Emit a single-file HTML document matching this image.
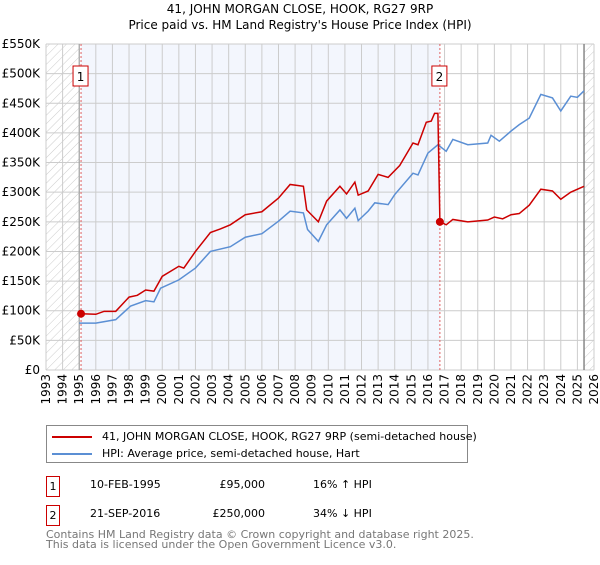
<!DOCTYPE html>
<html><head><meta charset="utf-8"><style>
body{margin:0;background:#fff;width:600px;height:560px;overflow:hidden;font-family:"Liberation Sans","DejaVu Sans",sans-serif}
</style></head><body>
<svg id="c" width="600" height="560" xmlns="http://www.w3.org/2000/svg" font-family="DejaVu Sans, Liberation Sans, sans-serif">
<defs><pattern id="h" width="6" height="6" patternUnits="userSpaceOnUse" patternTransform="rotate(45)"><line x1="0" y1="0" x2="0" y2="6" stroke="#ccc" stroke-width="1"/></pattern></defs>
<text x="300" y="13" text-anchor="middle" font-size="12" fill="#000">41, JOHN MORGAN CLOSE, HOOK, RG27 9RP</text>
<text x="300" y="29" text-anchor="middle" font-size="12" fill="#000">Price paid vs. HM Land Registry's House Price Index (HPI)</text>
<g id="g"></g>
</svg>
<script>
const yTicks=[0,50,100,150,200,250,300,350,400,450,500,550];
const yearTicks=[1993,1994,1995,1996,1997,1998,1999,2000,2001,2002,2003,2004,2005,2006,2007,2008,2009,2010,2011,2012,2013,2014,2015,2016,2017,2018,2019,2020,2021,2022,2023,2024,2025,2026];
const hpiYears=[1995.0,1996,1997.2,1998.1,1999,1999.5,1999.9,2001,2002,2002.9,2004.1,2005,2006,2007,2007.7,2008.5,2008.75,2009.4,2009.9,2010.7,2011.1,2011.6,2011.8,2012.4,2012.8,2013.6,2014,2015.1,2015.4,2016,2016.6,2017.1,2017.5,2018.4,2019.6,2019.8,2020.3,2021,2021.5,2022.1,2022.8,2023.5,2024,2024.6,2025.0,2025.4];
const hpiValues=[79,79,85,108,117,115,138,152,172,200,208,224,230,251,268,265,237,217,245,270,256,273,252,268,282,279,296,332,329,366,380,369,389,380,383,396,386,403,414,425,465,459,437,462,460,471];
const priceYears=[1995.1,1996,1996.5,1997.2,1998,1998.5,1999,1999.5,2000,2001,2001.3,2002,2002.9,2003.5,2004.1,2005,2006,2007,2007.7,2008.5,2008.7,2009.4,2009.9,2010.7,2011.1,2011.6,2011.8,2012.4,2013,2013.6,2014.3,2015.1,2015.4,2015.9,2016.2,2016.4,2016.6,2016.72,2017.1,2017.5,2018.4,2019.6,2020,2020.5,2021,2021.5,2022.1,2022.8,2023.5,2024,2024.6,2025.4];
const priceValues=[95,94,99,99,123,126,135,133,158,175,172,200,232,238,245,262,267,290,313,310,270,250,285,310,297,317,295,302,330,325,345,383,380,418,420,433,433,250,245,254,250,253,258,255,262,264,278,305,302,288,300,310];
const sales=[{year:1995.11,value:95,label:"1"},{year:2016.72,value:250,label:"2"}];
const X0=46,X1=594,Y0=370,Y1=44;
const xs=y=>X0+(y-1993)/(2026-1993)*(X1-X0);
const ys=v=>Y0-v/550*(Y0-Y1);
const NS="http://www.w3.org/2000/svg",g=document.getElementById('g');
function mk(t,a,p){const e=document.createElementNS(NS,t);for(const k in a)e.setAttribute(k,a[k]);(p||g).appendChild(e);return e;}
let e;
e=mk('rect',{x:X0,y:Y1,width:X1-X0,height:Y0-Y1,fill:'#fff'});

e=mk('rect',{x:xs(1995.11),y:Y1,width:xs(2016.72)-xs(1995.11),height:Y0-Y1,fill:'#f3f6fd'});

e=mk('rect',{x:X0,y:Y1,width:xs(1995)-X0,height:Y0-Y1,fill:'url(#h)'});

e=mk('rect',{x:xs(2025.4),y:Y1,width:X1-xs(2025.4),height:Y0-Y1,fill:'url(#h)'});

yTicks.forEach(v=>{e=mk('line',{x1:X0,x2:X1,y1:ys(v),y2:ys(v),stroke:'#ccc','stroke-width':1});

e=mk('text',{x:40,y:ys(v)+4,'text-anchor':'end','font-size':12,fill:'#000'});e.textContent='£'+(v?v+'K':'0');
});
yearTicks.forEach(y=>{e=mk('line',{x1:xs(y),x2:xs(y),y1:Y1,y2:Y0,stroke:'#ccc','stroke-width':1});

e=mk('text',{x:0,y:0,'text-anchor':'end','font-size':12,fill:'#000',transform:`translate(${xs(y)+4},374) rotate(-90)`});e.textContent=y;
});
e=mk('line',{x1:xs(1995),x2:xs(1995),y1:Y1,y2:Y0,stroke:'#999','stroke-width':1});

e=mk('line',{x1:xs(2025.4),x2:xs(2025.4),y1:Y1,y2:Y0,stroke:'#888','stroke-width':1.5});

sales.forEach(s=>{e=mk('line',{x1:xs(s.year),x2:xs(s.year),y1:Y1,y2:Y0,stroke:'#e06060','stroke-width':1,'stroke-dasharray':'2,2'});

e=mk('rect',{x:xs(s.year)-8,y:66,width:15,height:20,fill:'#fff',stroke:'#c00'});

e=mk('text',{x:xs(s.year)-0.5,y:81,'text-anchor':'middle','font-size':12,fill:'#000'});e.textContent=s.label;
});
e=mk('polyline',{points:hpiYears.map((y,i)=>xs(y)+','+ys(hpiValues[i])).join(' '),fill:'none',stroke:'#5b8fd4','stroke-width':1.5});

e=mk('polyline',{points:priceYears.map((y,i)=>xs(y)+','+ys(priceValues[i])).join(' '),fill:'none',stroke:'#cc0000','stroke-width':1.5});

sales.forEach(s=>{e=mk('circle',{cx:xs(s.year),cy:ys(s.value),r:4,fill:'#cc0000'});
});
</script>
<div style="position:absolute;left:46px;top:425px;width:420px;height:36px;border:1px solid #888;font-family:'DejaVu Sans',sans-serif;font-size:11px">
<div style="position:absolute;left:5px;top:4px;white-space:nowrap"><span style="display:inline-block;width:40px;height:2px;background:#cc0000;vertical-align:middle;margin-right:10px"></span>41, JOHN MORGAN CLOSE, HOOK, RG27 9RP (semi-detached house)</div>
<div style="position:absolute;left:5px;top:21px;white-space:nowrap"><span style="display:inline-block;width:40px;height:2px;background:#5b8fd4;vertical-align:middle;margin-right:10px"></span>HPI: Average price, semi-detached house, Hart</div>
</div>
<div style="font-family:'DejaVu Sans',sans-serif;font-size:11px">
<div style="position:absolute;left:46px;top:476px;width:12px;height:19px;border:1px solid #c00;text-align:center;line-height:19px">1</div>
<div style="position:absolute;left:90px;top:478px">10-FEB-1995</div>
<div style="position:absolute;right:335px;top:478px">£95,000</div>
<div style="position:absolute;left:313px;top:478px">16% ↑ HPI</div>
<div style="position:absolute;left:46px;top:505px;width:12px;height:19px;border:1px solid #c00;text-align:center;line-height:19px">2</div>
<div style="position:absolute;left:90px;top:507px">21-SEP-2016</div>
<div style="position:absolute;right:335px;top:507px">£250,000</div>
<div style="position:absolute;left:313px;top:507px">34% ↓ HPI</div>
<div style="position:absolute;left:46px;top:530px;color:#777;line-height:10px">Contains HM Land Registry data © Crown copyright and database right 2025.<br>This data is licensed under the Open Government Licence v3.0.</div>
</div>
</body></html>
